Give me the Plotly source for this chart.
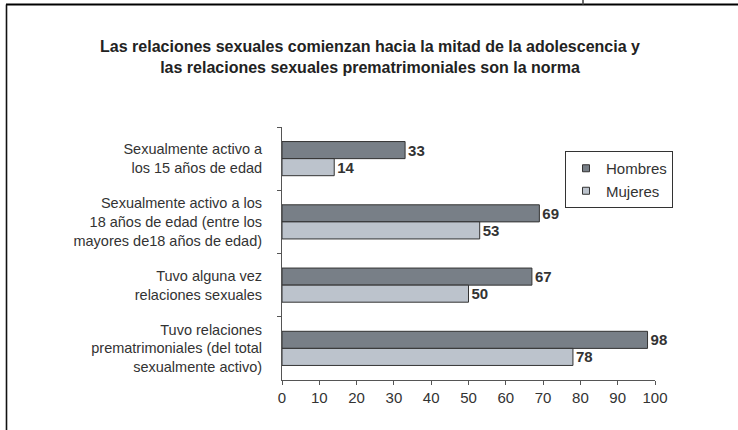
import plotly.graph_objects as go

categories = [
    "Sexualmente activo a<br>los 15 años de edad",
    "Sexualmente activo a los<br>18 años de edad (entre los<br>mayores de18 años de edad)",
    "Tuvo alguna vez<br>relaciones sexuales",
    "Tuvo relaciones<br>prematrimoniales (del total<br>sexualmente activo)",
]
series_names = ["Hombres", "Mujeres"]
hombres = [33, 69, 67, 98]
mujeres = [14, 53, 50, 78]
x_ticks = [0, 10, 20, 30, 40, 50, 60, 70, 80, 90, 100]

W, H = 738, 430
L, R, T, B = 282, 655, 127, 380

def px(x):
    return (x - L) / (R - L)

def py(y):
    return (B - y) / (B - T)

font_fam = "Liberation Sans, Arial, Helvetica, sans-serif"
c_h = "#787f87"
c_m = "#bcc3cc"
c_line = "#333333"

fig = go.Figure()
for name, vals, col in [(series_names[0], hombres, c_h), (series_names[1], mujeres, c_m)]:
    fig.add_trace(go.Bar(
        y=categories, x=vals, orientation="h", name=name, showlegend=False,
        marker=dict(color=col, line=dict(color=c_line, width=1)),
        text=[str(v) for v in vals], textposition="outside",
        textfont=dict(family=font_fam, size=15, color="#333333", weight="bold"),
        cliponaxis=False,
    ))
# legend entries with small square swatches
for name, col in [(series_names[0], c_h), (series_names[1], c_m)]:
    fig.add_trace(go.Scatter(
        x=[None], y=[None], mode="markers", name=name,
        marker=dict(symbol="square", size=7, color=col, line=dict(color=c_line, width=1)),
    ))

shapes = [
    dict(type="line", xref="paper", yref="paper", x0=px(6), x1=px(740), y0=py(4.5), y1=py(4.5),
         line=dict(color="#000000", width=1.8)),
    dict(type="line", xref="paper", yref="paper", x0=px(6.5), x1=px(6.5), y0=py(4.5), y1=py(432),
         line=dict(color="#111111", width=1.6)),
    dict(type="line", xref="paper", yref="paper", x0=px(583), x1=px(583), y0=py(-2), y1=py(4.5),
         line=dict(color="#555555", width=1.7)),
]

fig.update_layout(
    width=W, height=H,
    margin=dict(l=L, r=W - R, t=T, b=H - B),
    paper_bgcolor="white", plot_bgcolor="white",
    barmode="group", bargap=0.46, bargroupgap=0.0,
    font=dict(family=font_fam, size=15, color="#333333"),
    title=dict(
        text="Las relaciones sexuales comienzan hacia la mitad de la adolescencia y<br>las relaciones sexuales prematrimoniales son la norma",
        x=370 / W, xanchor="center", xref="container",
        y=1 - 52 / H, yanchor="middle", yref="container",
        font=dict(family=font_fam, size=16, color="#222222", weight="bold"),
    ),
    xaxis=dict(
        range=[0, 100], tickvals=x_ticks, ticktext=[str(v) for v in x_ticks],
        showgrid=False, zeroline=False, showline=True, linecolor="#555555", linewidth=1,
        ticks="outside", ticklen=4, tickcolor="#555555",
        tickfont=dict(size=15, color="#333333"),
    ),
    yaxis=dict(
        autorange="reversed", showgrid=False, zeroline=False,
        showline=True, linecolor="#555555", linewidth=1,
        ticks="outside", ticklen=4, tickcolor="#555555", tickson="boundaries",
        ticklabelstandoff=16,
        tickfont=dict(size=14.5, color="#333333"),
    ),
    legend=dict(
        x=px(565), y=py(151), xanchor="left", yanchor="top",
        bordercolor="#333333", borderwidth=1, bgcolor="white",
        font=dict(size=15, color="#333333"),
        itemwidth=30, tracegroupgap=0,
    ),
    shapes=shapes,
)

fig.write_html("out.html", config={"displayModeBar": False},
               post_script="document.body.style.margin='0px';")
